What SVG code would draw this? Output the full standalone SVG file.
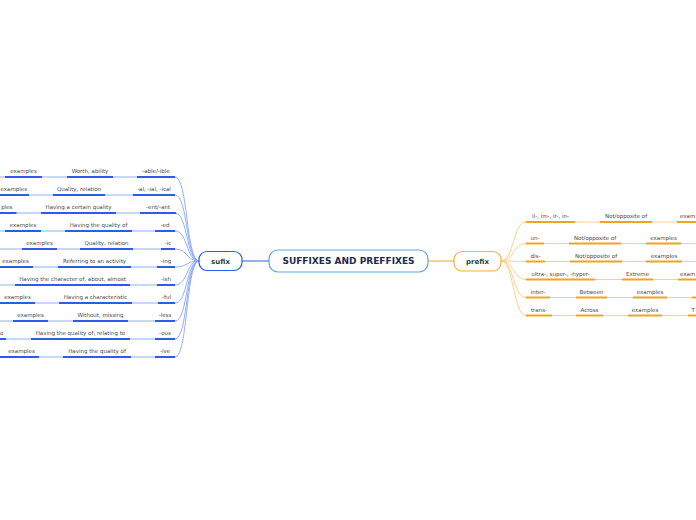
<svg xmlns="http://www.w3.org/2000/svg" width="696" height="520" viewBox="0 0 696 520">
<style>
.lbl{font-family:"DejaVu Sans","Liberation Sans",sans-serif;font-size:5.5px;fill:#4a4a4a;text-anchor:middle}
.st{text-anchor:start}
.en{text-anchor:end}
.ulb{stroke:#2c5de8;stroke-width:2;fill:none}
.ulo{stroke:#f6a21c;stroke-width:2;fill:none}
.cb{stroke:#86a6ff;stroke-width:0.9;fill:none}
.co{stroke:#ffca7c;stroke-width:0.9;fill:none}
.nt{font-family:"DejaVu Sans","Liberation Sans",sans-serif;font-weight:bold;font-size:7px;fill:#1b4a34;text-anchor:middle}
</style>
<rect width="696" height="520" fill="#ffffff"/>
<g id="connectors">
  <line x1="242" y1="261" x2="269" y2="261" stroke="#2c5de8" stroke-width="1"/>
  <line x1="428" y1="261" x2="454" y2="261" stroke="#f6a21c" stroke-width="1"/>
  <path class="cb" d="M0,177H175 C188,177 186,261 199,261"/>
  <path class="cb" d="M0,195H175 C188,195 186,261 199,261"/>
  <path class="cb" d="M0,213H175 C188,213 186,261 199,261"/>
  <path class="cb" d="M0,231H175 C188,231 186,261 199,261"/>
  <path class="cb" d="M0,249H175 C188,249 186,261 199,261"/>
  <path class="cb" d="M0,267H175 C188,267 186,261 199,261"/>
  <path class="cb" d="M0,285H175 C188,285 186,261 199,261"/>
  <path class="cb" d="M0,303H175 C188,303 186,261 199,261"/>
  <path class="cb" d="M0,321H175 C188,321 186,261 199,261"/>
  <path class="cb" d="M0,339H175 C188,339 186,261 199,261"/>
  <path class="cb" d="M0,357H175 C188,357 186,261 199,261"/>
  <path class="co" d="M501,261 C514,261 513,222 526,222H696"/>
  <path class="co" d="M501,261 C514,261 513,243.5 526,243.5H696"/>
  <path class="co" d="M501,261 C514,261 513,261.5 526,261.5H696"/>
  <path class="co" d="M501,261 C514,261 513,279.5 526,279.5H696"/>
  <path class="co" d="M501,261 C514,261 513,297.5 526,297.5H696"/>
  <path class="co" d="M501,261 C514,261 513,315.5 526,315.5H696"/>
</g>
<g id="central">
  <rect x="269" y="250" width="159" height="22" rx="9" fill="#ffffff" stroke="#5aa8e2" stroke-width="1.2"/>
  <text x="348.5" y="264.3" font-family="DejaVu Sans, Liberation Sans, sans-serif" font-weight="bold" font-size="9" fill="#1c2b50" text-anchor="middle">SUFFIXES AND PREFFIXES</text>
</g>
<g id="sufix">
  <rect x="199" y="251.5" width="43" height="19" rx="8" fill="#ffffff" stroke="#2c5de8" stroke-width="1.2"/>
  <text class="nt" x="220.5" y="263.5">sufix</text>
</g>
<g id="prefix">
  <rect x="454" y="251.5" width="47" height="19.5" rx="8" fill="#ffffff" stroke="#f7b043" stroke-width="1.2"/>
  <text class="nt" x="477.5" y="263.5">prefix</text>
</g>
<g id="s1"><path class="ulb" d="M137,177H175"/><text class="lbl" x="156" y="173">-able/-ible</text></g>
<g id="s1a"><path class="ulb" d="M67,177H113"/><text class="lbl" x="90" y="173">Worth, ability</text></g>
<g id="s1b"><path class="ulb" d="M5,177H42"/><text class="lbl" x="23.5" y="173">examples</text></g>
<g id="s2"><path class="ulb" d="M133,195H175"/><text class="lbl" x="154" y="191">-al, -ial, -ical</text></g>
<g id="s2a"><path class="ulb" d="M53,195H105"/><text class="lbl" x="79" y="191">Quality, relation</text></g>
<g id="s2b"><path class="ulb" d="M-5,195H29"/><text class="lbl st" x="0.5" y="191">examples</text></g>
<g id="s3"><path class="ulb" d="M140,213H176"/><text class="lbl" x="158" y="209">-ent/-ant</text></g>
<g id="s3a"><path class="ulb" d="M41,213H116"/><text class="lbl" x="78.5" y="209">Having a certain quality</text></g>
<g id="s3b"><path class="ulb" d="M-18,213H16.5"/><text class="lbl en" x="12.5" y="209">ples</text></g>
<g id="s4"><path class="ulb" d="M155,231H175"/><text class="lbl" x="165" y="227">-ed</text></g>
<g id="s4a"><path class="ulb" d="M65,231H132"/><text class="lbl" x="98.5" y="227">Having the quality of</text></g>
<g id="s4b"><path class="ulb" d="M5,231H41"/><text class="lbl" x="23" y="227">examples</text></g>
<g id="s5"><path class="ulb" d="M161,249H175"/><text class="lbl" x="168" y="245">-ic</text></g>
<g id="s5a"><path class="ulb" d="M80,249H133"/><text class="lbl" x="106.5" y="245">Quality, relation</text></g>
<g id="s5b"><path class="ulb" d="M22,249H57"/><text class="lbl" x="39.5" y="245">examples</text></g>
<g id="s6"><path class="ulb" d="M157,267H175"/><text class="lbl" x="166" y="263">-ing</text></g>
<g id="s6a"><path class="ulb" d="M58,267H131"/><text class="lbl" x="94.5" y="263">Referring to an activity</text></g>
<g id="s6b"><path class="ulb" d="M-2,267H33"/><text class="lbl" x="15.5" y="263">examples</text></g>
<g id="s7"><path class="ulb" d="M157,285H175"/><text class="lbl" x="166" y="281">-ish</text></g>
<g id="s7a"><path class="ulb" d="M15,285H130"/><text class="lbl" x="72.5" y="281">Having the character of, about, almost</text></g>
<g id="s8"><path class="ulb" d="M158,303H175"/><text class="lbl" x="166.5" y="299">-ful</text></g>
<g id="s8a"><path class="ulb" d="M59,303H132"/><text class="lbl" x="95.5" y="299">Having a characteristic</text></g>
<g id="s8b"><path class="ulb" d="M0,303H35"/><text class="lbl" x="17.5" y="299">examples</text></g>
<g id="s9"><path class="ulb" d="M155,321H175"/><text class="lbl" x="165" y="317">-less</text></g>
<g id="s9a"><path class="ulb" d="M73,321H128"/><text class="lbl" x="100.5" y="317">Without, missing</text></g>
<g id="s9b"><path class="ulb" d="M13,321H48"/><text class="lbl" x="30.5" y="317">examples</text></g>
<g id="s10"><path class="ulb" d="M155,339H175"/><text class="lbl" x="165" y="335">-ous</text></g>
<g id="s10a"><path class="ulb" d="M31,339H130"/><text class="lbl" x="80.5" y="335">Having the quality of, relating to</text></g>
<g id="s10b"><path class="ulb" d="M-10,339H6"/><text class="lbl st" x="0" y="335">o</text></g>
<g id="s11"><path class="ulb" d="M155,357H175"/><text class="lbl" x="165" y="353">-ive</text></g>
<g id="s11a"><path class="ulb" d="M63,357H131"/><text class="lbl" x="97" y="353">Having the quality of</text></g>
<g id="s11b"><path class="ulb" d="M0,357H39"/><text class="lbl" x="21.5" y="353">examples</text></g>
<g id="p1"><path class="ulo" d="M526,222H575"/><text class="lbl" x="550.5" y="218">il-, im-, ir-, in-</text></g>
<g id="p1a"><path class="ulo" d="M600,222H652"/><text class="lbl" x="626" y="218">Not/opposite of</text></g>
<g id="p1b"><path class="ulo" d="M677,222H720"/><text class="lbl st" x="680" y="218">exam</text></g>
<g id="p2"><path class="ulo" d="M526,243.5H544"/><text class="lbl" x="535" y="239.5">un-</text></g>
<g id="p2a"><path class="ulo" d="M569,243.5H621"/><text class="lbl" x="595" y="239.5">Not/opposite of</text></g>
<g id="p2b"><path class="ulo" d="M646,243.5H681"/><text class="lbl" x="663.5" y="239.5">examples</text></g>
<g id="p3"><path class="ulo" d="M526,261.5H545"/><text class="lbl" x="535.5" y="257.5">dis-</text></g>
<g id="p3a"><path class="ulo" d="M570,261.5H622"/><text class="lbl" x="596" y="257.5">Not/opposite of</text></g>
<g id="p3b"><path class="ulo" d="M646,261.5H682"/><text class="lbl" x="664" y="257.5">examples</text></g>
<g id="p4"><path class="ulo" d="M526,279.5H595"/><text class="lbl" x="560.5" y="275.5">ultra-, super-, -hyper-</text></g>
<g id="p4a"><path class="ulo" d="M622,279.5H653"/><text class="lbl" x="637.5" y="275.5">Extreme</text></g>
<g id="p4b"><path class="ulo" d="M678,279.5H720"/><text class="lbl st" x="680" y="275.5">exam</text></g>
<g id="p5"><path class="ulo" d="M526,297.5H550"/><text class="lbl" x="538" y="293.5">inter-</text></g>
<g id="p5a"><path class="ulo" d="M576,297.5H607"/><text class="lbl" x="591.5" y="293.5">Between</text></g>
<g id="p5b"><path class="ulo" d="M633,297.5H667"/><text class="lbl" x="650" y="293.5">examples</text></g>
<g id="p5c"><path class="ulo" d="M692,297.5H720"/></g>
<g id="p6"><path class="ulo" d="M526,315.5H552"/><text class="lbl" x="539" y="311.5">trans-</text></g>
<g id="p6a"><path class="ulo" d="M576,315.5H603"/><text class="lbl" x="589.5" y="311.5">Across</text></g>
<g id="p6b"><path class="ulo" d="M628,315.5H662"/><text class="lbl" x="645" y="311.5">examples</text></g>
<g id="p6c"><path class="ulo" d="M688,315.5H720"/><text class="lbl st" x="691.5" y="311.5">T</text></g>
</svg>
